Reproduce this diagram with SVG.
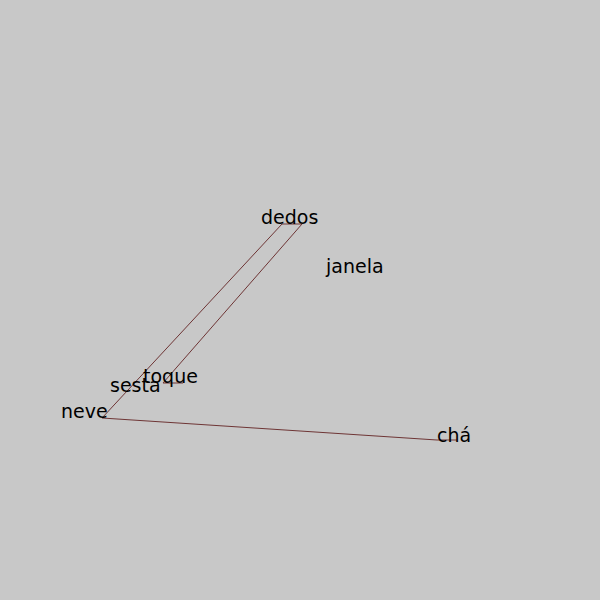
<svg xmlns="http://www.w3.org/2000/svg" width="600" height="600" viewBox="0 0 600 600">
<style>
.bg{fill:#c8c8c8}
.lbl{font-family:"DejaVu Sans",sans-serif;font-size:19px;fill:#000}
.edge{fill:none;stroke:#6e3535;stroke-width:1}
</style>
<rect class="bg" x="0" y="0" width="600" height="600"/>
<g id="connectors">
<path class="edge" d="M102,418 L282,224 L302,224"/>
<path class="edge" d="M302,224 L163,383 L183,383"/>
<path class="edge" d="M102,418 L437,440 L457,440"/>
</g>
<g id="node-dedos"><text class="lbl" x="261" y="224">dedos</text></g>
<g id="node-janela"><text class="lbl" x="326" y="273">janela</text></g>
<g id="node-toque"><text class="lbl" x="143" y="383">toque</text></g>
<g id="node-sesta"><text class="lbl" x="110" y="392">sesta</text></g>
<g id="node-neve"><text class="lbl" x="61" y="418">neve</text></g>
<g id="node-cha"><text class="lbl" x="437" y="442">chá</text></g>
</svg>
